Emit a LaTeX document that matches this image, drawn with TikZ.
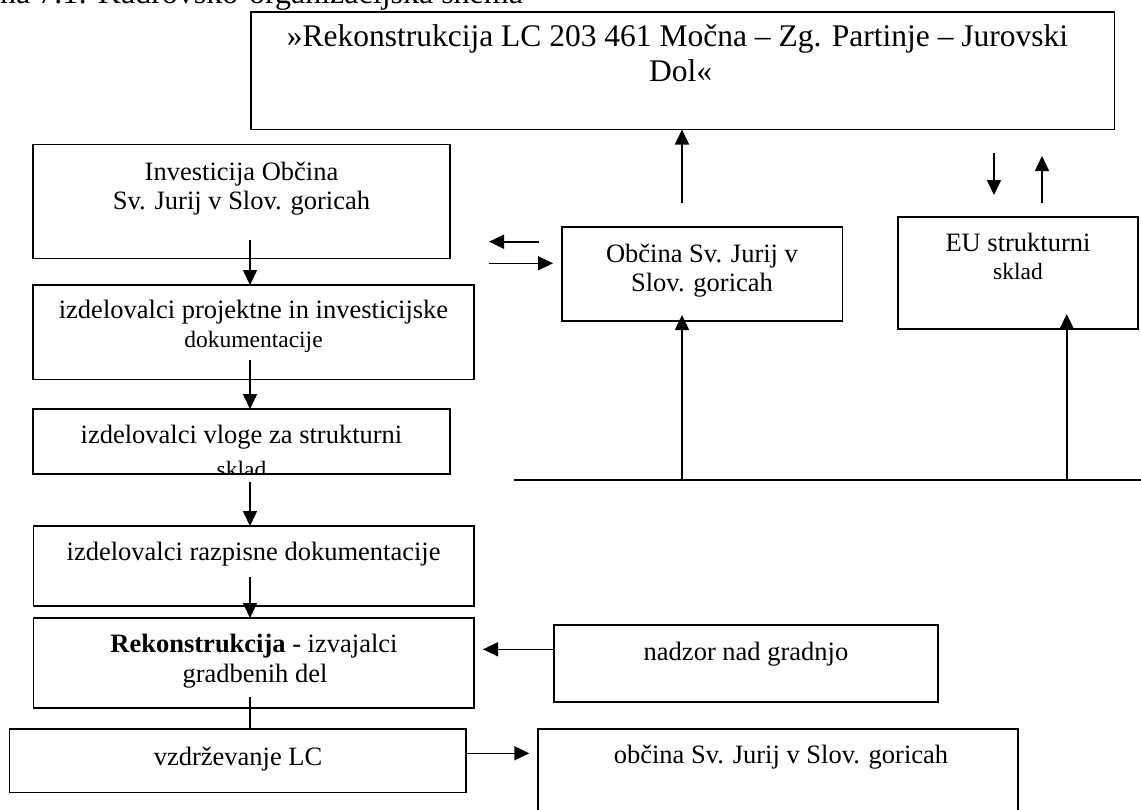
\documentclass[tikz,border=0pt]{standalone}
\usepackage{fontspec}
\setmainfont{Liberation Serif}
\usetikzlibrary{arrows.meta,calc}
\begin{document}
\begin{tikzpicture}[x=1pt,y=-1pt,
  box/.style={draw, line width=1.6pt, inner sep=0pt, outer sep=0pt, anchor=north west},
  txt/.style={inner sep=0pt, anchor=base, font=\fontsize{26.5}{29}\selectfont},
  smalltxt/.style={inner sep=0pt, anchor=base, font=\fontsize{23.5}{27}\selectfont},
  bigtxt/.style={inner sep=0pt, anchor=base, font=\fontsize{31.5}{34}\selectfont},
  arr/.style={line width=1.6pt, -{Triangle[length=15pt,width=14pt]}},
  ln/.style={line width=1.6pt}]
\useasboundingbox (0,0) rectangle (1141,809);
\clip (0,0) rectangle (1141,809);
\fill[white] (0,0) rectangle (1141,809);

% partially visible caption
\node[inner sep=0pt, anchor=base west, font=\fontsize{32}{34}\selectfont] (caption) at (0,3) {na 7.1: Kadrovsko-organizacijska shema};

% boxes
\node[box, minimum width=863.6pt, minimum height=117.8pt] (title) at (250.7,11.7) {};
\node[box, minimum width=417pt, minimum height=114pt] (inv) at (33,144.3) {};
\node[box, minimum width=441pt, minimum height=94.3pt] (proj) at (33,285) {};
\node[box, minimum width=417pt, minimum height=65pt] (vloge) at (33,409) {};
\node[box, minimum width=440.5pt, minimum height=80pt] (razp) at (33.3,526) {};
\node[box, minimum width=440.5pt, minimum height=89.7pt] (rek) at (33.3,618) {};
\node[box, minimum width=456.4pt, minimum height=63.6pt] (vzd) at (9.6,728.7) {};
\node[box, minimum width=280.6pt, minimum height=94.3pt] (obc) at (561.7,226.7) {};
\node[box, minimum width=240pt, minimum height=112.3pt] (eu) at (897.7,216.7) {};
\node[box, minimum width=384pt, minimum height=76.7pt] (nad) at (554,625) {};
\node[box, minimum width=480pt, minimum height=120pt] (obc2) at (538,729) {};

% texts
\node[bigtxt] (title1) at (677.5,46.7) {»Rekonstrukcija LC 203 461 Močna – Zg. Partinje – Jurovski};
\node[bigtxt] (title2) at (680.7,81) {Dol«};
\node[txt] (inv1) at (241.5,180) {Investicija Občina};
\node[txt] (inv2) at (241.5,209) {Sv. Jurij v Slov. goricah};
\node[txt] (proj1) at (253.5,318.3) {izdelovalci projektne in investicijske};
\node[smalltxt] (proj2) at (253.5,347.3) {dokumentacije};
\node[txt] (vloge1) at (241.5,443.3) {izdelovalci vloge za strukturni};
\begin{scope}
  \clip (34,410) rectangle (449,473);
  \node[smalltxt] (vloge2) at (241.5,477) {sklad};
\end{scope}
\node[txt] (razp1) at (253.6,560) {izdelovalci razpisne dokumentacije};
\node[txt] (rek1) at (254,652.3) {\textbf{Rekonstrukcija} - izvajalci};
\node[txt] (rek2) at (255,682.3) {gradbenih del};
\node[txt] (vzd1) at (238,765) {vzdrževanje LC};
\node[txt] (obc1) at (702,262.7) {Občina Sv. Jurij v};
\node[txt] (obcb) at (702,291.7) {Slov. goricah};
\node[txt] (eu1) at (1018,251) {EU strukturni};
\node[smalltxt] (eu2) at (1018,279.3) {sklad};
\node[txt] (nad1) at (746,660) {nadzor nad gradnjo};
\node[txt] (obc21) at (781,763.3) {občina Sv. Jurij v Slov. goricah};

% free connector ends
\coordinate (s1) at (250,240);
\coordinate (s2) at (250,360);
\coordinate (s3) at (250,481.7);
\coordinate (s4) at (250,576.7);
\coordinate (s5) at (250,696.7);
\coordinate (e6) at (529.3,753.3);
\coordinate (e7) at (483,649.3);
\coordinate (la) at (539,241.7);
\coordinate (lb) at (489,241.7);
\coordinate (ra) at (489,263.3);
\coordinate (rb) at (553,263.3);
\coordinate (up1) at (682,202.7);
\coordinate (da) at (994,153);
\coordinate (db) at (994,195);
\coordinate (ua) at (1042,202.7);
\coordinate (ub) at (1042,156);
\coordinate (busL) at (514,480);
\coordinate (busR) at (1141,480);
\coordinate (busA) at (682,480);
\coordinate (busB) at (1066.7,480);
\coordinate (tipA) at (682,315);
\coordinate (tipB) at (1066.7,314);

% connectors
\draw[arr] (s1) -- (s1 |- proj.north);
\draw[arr] (s2) -- (s2 |- vloge.north);
\draw[arr] (s3) -- (s3 |- razp.north);
\draw[arr] (s4) -- (s4 |- rek.north);
\draw[ln] (s5) -- (s5 |- vzd.north);
\draw[arr] (vzd.east |- e6) -- (e6);
\draw[arr] (nad.west |- e7) -- (e7);
\draw[arr] (la) -- (lb);
\draw[arr] (ra) -- (rb);
\draw[arr] (up1) -- (up1 |- title.south);
\draw[arr] (da) -- (db);
\draw[arr] (ua) -- (ub);
\draw[ln] (busL) -- (busR);
\draw[arr] (busA) -- (tipA);
\draw[arr] (busB) -- (tipB);
\end{tikzpicture}
\end{document}
